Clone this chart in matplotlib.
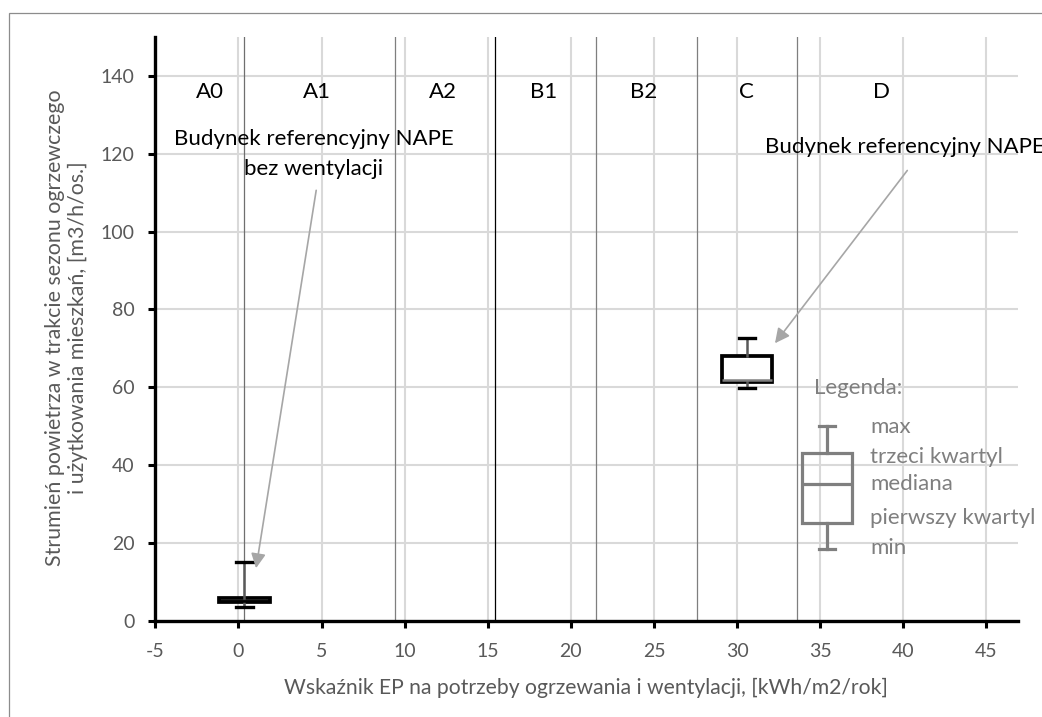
import matplotlib
matplotlib.use("Agg")
import matplotlib.pyplot as plt
from matplotlib.patches import Rectangle

plt.rcParams['font.family'] = ['Lato', 'DejaVu Sans']
plt.rcParams['axes.unicode_minus'] = False

# ---- data ----
box_positions = [0.36, 30.6]
box_whislo = [3.6, 59.7]
box_q1 = [4.7, 61.4]
box_med = [5.0, 61.75]
box_q3 = [5.8, 68.0]
box_whishi = [15.1, 72.6]

legend_position = 35.42
legend_stats = [18.3, 25.2, 35.2, 43.0, 50.0]  # min, q1, median, q3, max
legend_labels = ["max", "trzeci kwartyl", "mediana", "pierwszy kwartyl", "min"]
legend_label_y = [49.8, 42.0, 35.1, 26.4, 18.7]

class_bounds = [0.36, 9.43, 15.46, 21.52, 27.57, 33.61]
class_bound_colors = ["#6f6f6f", "#7f7f7f", "#000000", "#7f7f7f", "#7f7f7f", "#7f7f7f"]
class_labels = ["A0", "A1", "A2", "B1", "B2", "C", "D"]
class_label_x = [-1.7, 4.7, 12.3, 18.35, 24.4, 30.55, 38.7]
class_label_y = 135.8

x_ticks = list(range(-5, 50, 5))
y_ticks = list(range(0, 160, 20))

GRAY_TXT = "#595959"

fig = plt.figure(figsize=(10.42, 7.17), dpi=100)
ax = fig.add_axes([155.3 / 1042, 1 - 620.7 / 717, (1018 - 155.3) / 1042, (620.7 - 37.0) / 717])
ax.set_xlim(-5, 46.9)
ax.set_ylim(0, 150)

# grid
for xv in x_ticks[1:]:
    ax.axvline(xv, color="#d9d9d9", lw=1.5, zorder=0)
for yv in y_ticks[1:]:
    ax.axhline(yv, color="#d9d9d9", lw=1.5, zorder=0)

# class boundaries
for xb, c in zip(class_bounds, class_bound_colors):
    ax.axvline(xb, color=c, lw=0.9, zorder=1)

for lab, lx in zip(class_labels, class_label_x):
    ax.text(lx, class_label_y, lab, ha="center", va="center", fontsize=16, color="black", zorder=3)

# data boxes
stats = []
for i in range(len(box_positions)):
    stats.append(dict(whislo=box_whislo[i], q1=box_q1[i], med=box_med[i],
                      q3=box_q3[i], whishi=box_whishi[i], fliers=[]))
for i, st in enumerate(stats):
    ax.bxp([st], positions=[box_positions[i]], widths=3.05, capwidths=1.0,
           showfliers=False, patch_artist=True, manage_ticks=False,
           boxprops=dict(facecolor="white", edgecolor="black", linewidth=2.7),
           whiskerprops=dict(color="#595959", linewidth=1.8),
           capprops=dict(color="black", linewidth=2.4),
           medianprops=dict(color="#7f7f7f" if i == 1 else "black", linewidth=1.8),
           zorder=4)

# legend box
lst = dict(whislo=legend_stats[0], q1=legend_stats[1], med=legend_stats[2],
           q3=legend_stats[3], whishi=legend_stats[4], fliers=[])
ax.bxp([lst], positions=[legend_position], widths=3.0, capwidths=1.0,
       showfliers=False, patch_artist=True, manage_ticks=False,
       boxprops=dict(facecolor="none", edgecolor="#7f7f7f", linewidth=2.3),
       whiskerprops=dict(color="#7f7f7f", linewidth=2.3),
       capprops=dict(color="#7f7f7f", linewidth=2.3),
       medianprops=dict(color="#7f7f7f", linewidth=2.3),
       zorder=4)
ax.text(34.6, 59.8, "Legenda:", ha="left", va="center", fontsize=16, color="#7f7f7f", zorder=5)
for lab, ly in zip(legend_labels, legend_label_y):
    ax.text(38.0, ly, lab, ha="left", va="center", fontsize=16, color="#7f7f7f", zorder=5)

# annotations
ax.text(4.55, 120.0, "Budynek referencyjny NAPE\nbez wentylacji", ha="center", va="center",
        fontsize=16, color="black", linespacing=1.62, zorder=5)
ax.annotate("", xy=(1.06, 13.5), xytext=(4.68, 110.6),
            arrowprops=dict(arrowstyle="-|>", color="#a6a6a6", lw=1.2, mutation_scale=22,
                            shrinkA=0, shrinkB=0), zorder=5)
ax.text(31.68, 121.8, "Budynek referencyjny NAPE", ha="left", va="center",
        fontsize=16, color="black", zorder=5, clip_on=False)
ax.annotate("", xy=(32.28, 71.3), xytext=(40.24, 115.7),
            arrowprops=dict(arrowstyle="-|>", color="#a6a6a6", lw=1.2, mutation_scale=22,
                            shrinkA=0, shrinkB=0), zorder=5)

# axes styling
for s in ["top", "right"]:
    ax.spines[s].set_visible(False)
for s in ["left", "bottom"]:
    ax.spines[s].set_linewidth(2.4)
    ax.spines[s].set_color("black")
    ax.spines[s].set_zorder(6)
ax.set_xticks(x_ticks)
ax.set_yticks(y_ticks)
ax.tick_params(axis="both", direction="out", length=5, width=2.2, color="black",
               labelcolor=GRAY_TXT, labelsize=14)
ax.tick_params(axis="y", pad=10)
ax.tick_params(axis="x", pad=11)

ax.set_xlabel("Wskaźnik EP na potrzeby ogrzewania i wentylacji, [kWh/m2/rok]",
              fontsize=15.2, color=GRAY_TXT)
ax.set_ylabel("Strumień powietrza w trakcie sezonu ogrzewczego\ni użytkowania mieszkań, [m3/h/os.]",
              fontsize=15.4, color=GRAY_TXT, linespacing=1.2)
ax.xaxis.set_label_coords((585.5 - 155.3) / (1018 - 155.3), -(678 - 620.7) / (620.7 - 37.0))
ax.yaxis.set_label_coords(-(155.3 - 88) / (1018 - 155.3), (620.7 - 328) / (620.7 - 37.0))

# outer chart border
fig.patches.append(Rectangle((8.5 / 1042, -0.1), 1.2, 0.1 + 1 - 12.7 / 717,
                             transform=fig.transFigure, fill=False, edgecolor="#8c8c8c",
                             linewidth=0.9, zorder=0))

fig.savefig("out.png", dpi=100)
